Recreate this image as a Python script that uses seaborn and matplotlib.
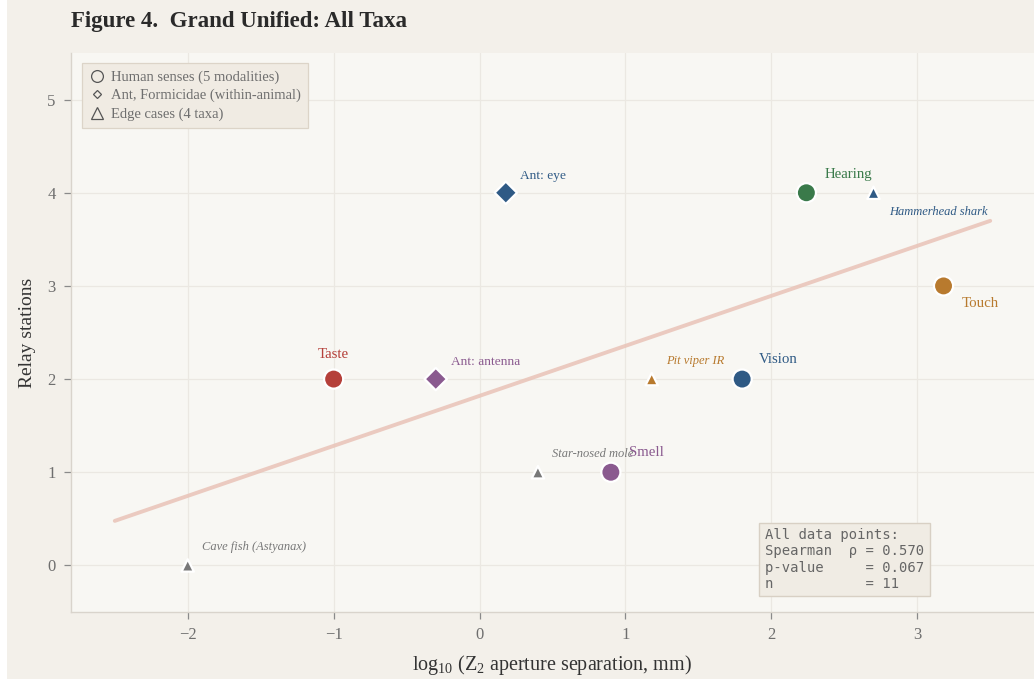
import numpy as np
import pandas as pd
import matplotlib
matplotlib.use("Agg")
import matplotlib.pyplot as plt
from matplotlib.lines import Line2D
from matplotlib.patches import Rectangle
import seaborn as sns

# ---- data -------------------------------------------------------------
labels = ["Taste", "Smell", "Vision", "Hearing", "Touch",
          "Ant: antenna", "Ant: eye",
          "Cave fish (Astyanax)", "Star-nosed mole", "Pit viper IR", "Hammerhead shark"]
groups = ["human"] * 5 + ["ant"] * 2 + ["edge"] * 4
log_sep = [-1.00, 0.90, 1.80, 2.24, 3.18,
           -0.30, 0.18,
           -2.00, 0.40, 1.18, 2.70]
relays = [2, 1, 2, 4, 3,
          2, 4,
          0, 1, 2, 4]
colors = ["#b5403a", "#8a5a8f", "#2f5a85", "#3a7a4a", "#b87a2e",
          "#8a5a8f", "#2f5a85",
          "#787878", "#787878", "#b87a2e", "#2f5a85"]
stats_lines = ["All data points:",
               "Spearman  \u03c1 = 0.570",
               "p-value     = 0.067",
               "n           = 11"]

df = pd.DataFrame({"label": labels, "group": groups, "x": log_sep, "y": relays})
palette = dict(zip(labels, colors))

# ---- style ------------------------------------------------------------
sns.set_theme(style="whitegrid")
plt.rcParams["font.family"] = ["Liberation Serif", "DejaVu Serif"]
plt.rcParams["mathtext.fontset"] = "custom"
plt.rcParams["mathtext.rm"] = "Liberation Serif"
plt.rcParams["mathtext.it"] = "Liberation Serif:italic"
plt.rcParams["mathtext.default"] = "regular"

fig = plt.figure(figsize=(10.34, 6.83), dpi=100, facecolor="white")
fig.patches.append(Rectangle((7 / 1034, 4 / 683), 1, 1, transform=fig.transFigure,
                             facecolor="#f3f0ea", edgecolor="none", zorder=-10))
ax = fig.add_axes([71 / 1034, 1 - 612 / 683, 1 - 71 / 1034, (612 - 53) / 683])
ax.set_facecolor("#f8f7f3")

# ---- regression trend line across all points ----------------------------
slope, intercept = np.polyfit(df["x"], df["y"], 1)
xs = np.array([-2.5, 3.5])
sns.lineplot(x=xs, y=slope * xs + intercept, ax=ax, color="#e9c3b7",
             linewidth=2.8, alpha=0.85, zorder=1)

# ---- markers per group --------------------------------------------------
marker_spec = {"human": ("o", 190), "ant": ("D", 130), "edge": ("^", 80)}
for g, (m, s) in marker_spec.items():
    sub = df[df["group"] == g]
    sns.scatterplot(data=sub, x="x", y="y", hue="label", palette=palette,
                    marker=m, s=s, edgecolor="white", linewidth=1.6,
                    legend=False, ax=ax, zorder=3)

# ---- point annotations --------------------------------------------------
label_style = {
    "human": dict(fontsize=10.7, style="normal"),
    "ant": dict(fontsize=9.6, style="normal"),
    "edge": dict(fontsize=9, style="italic"),
}
offsets = {
    "Taste": (0, 18, "center"),
    "Smell": (13, 14, "left"),
    "Vision": (12, 14, "left"),
    "Hearing": (13, 13, "left"),
    "Touch": (13, -13, "left"),
    "Ant: antenna": (11, 12, "left"),
    "Ant: eye": (10, 12, "left"),
    "Cave fish (Astyanax)": (10, 13, "left"),
    "Star-nosed mole": (10, 13, "left"),
    "Pit viper IR": (10, 13, "left"),
    "Hammerhead shark": (11, -14, "left"),
}
for lab, g, x, y, c in zip(labels, groups, log_sep, relays, colors):
    dx, dy, ha = offsets[lab]
    ax.annotate(lab, (x, y), xytext=(dx, dy), textcoords="offset points",
                ha=ha, va="center", color=c, zorder=4, **label_style[g])

# ---- axes ---------------------------------------------------------------
ax.set_xlim(-2.8, 3.8)
ax.set_ylim(-0.5, 5.5)
ax.set_xticks([-2, -1, 0, 1, 2, 3])
ax.set_yticks([0, 1, 2, 3, 4, 5])
ax.grid(True, color="#ebe8e2", linewidth=0.9)
for side in ["top", "right"]:
    ax.spines[side].set_visible(False)
for side in ["left", "bottom"]:
    ax.spines[side].set_color("#d9d4cc")
    ax.spines[side].set_linewidth(1.0)
ax.tick_params(axis="both", which="major", length=5, width=0.9, color="#8a8a8a",
               labelsize=12, labelcolor="#6e6e6e", pad=6, bottom=True, left=True)
ax.set_xlabel(r"log$_{10}$ (Z$_2$ aperture separation, mm)", fontsize=14.5,
              color="#333333", labelpad=7)
ax.set_ylabel("Relay stations", fontsize=14, color="#333333", labelpad=8)

# ---- legend -------------------------------------------------------------
handles = [
    Line2D([], [], linestyle="none", marker="o", markersize=8.5,
           markerfacecolor="none", markeredgecolor="#555555", markeredgewidth=0.9),
    Line2D([], [], linestyle="none", marker="D", markersize=4,
           markerfacecolor="none", markeredgecolor="#555555", markeredgewidth=0.9),
    Line2D([], [], linestyle="none", marker="^", markersize=9,
           markerfacecolor="none", markeredgecolor="#555555", markeredgewidth=0.9),
]
leg = ax.legend(handles, ["Human senses (5 modalities)",
                          "Ant, Formicidae (within-animal)",
                          "Edge cases (4 taxa)"],
                loc="upper left", bbox_to_anchor=(0.004, 0.995), fontsize=10.5,
                frameon=True, fancybox=False, handlelength=1.0, handletextpad=0.5,
                labelspacing=0.35, borderpad=0.5, labelcolor="#6e6e6e")
leg.get_frame().set_facecolor("#f0ebe3")
leg.get_frame().set_edgecolor("#dcd4c8")
leg.get_frame().set_linewidth(0.9)
leg.get_frame().set_alpha(1.0)

# ---- statistics box -----------------------------------------------------
ax.text(0.7207, 0.150, "\n".join(stats_lines), transform=ax.transAxes,
        family="DejaVu Sans Mono", fontsize=10, color="#666666",
        ha="left", va="top", linespacing=1.2, zorder=5,
        bbox=dict(boxstyle="square,pad=0.4", facecolor="#f0ece4",
                  edgecolor="#d8d0c4", linewidth=1.0))

# ---- title --------------------------------------------------------------
fig.text(71 / 1034, 1 - 22 / 683, "Figure 4.  Grand Unified: All Taxa",
         fontsize=16.5, fontweight="bold", color="#2a2a2a", ha="left", va="center")

fig.savefig("out.png", dpi=100, facecolor=fig.get_facecolor())
